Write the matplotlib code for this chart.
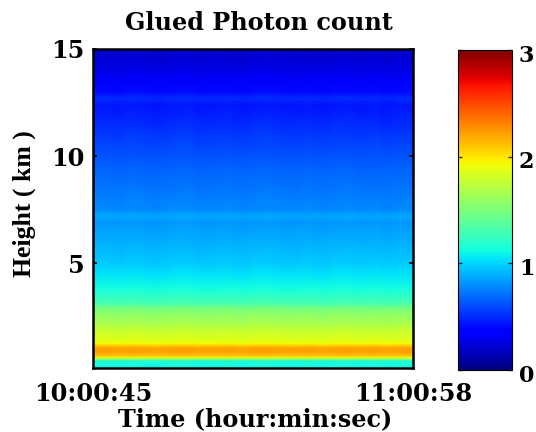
#!/usr/bin/env python
"""Glued photon count, height vs time."""
import numpy as np, matplotlib
matplotlib.use("Agg"); import matplotlib.pyplot as plt
from matplotlib.transforms import ScaledTranslation

plt.rcParams["font.family"] = ["DejaVu Serif", "Liberation Serif"]
plt.rcParams["font.weight"] = "bold"

# ---- mean profile (km, count) and slow time wiggle
HEIGHT = [0.1, 0.24, 0.47, 0.57, 0.7, 0.85, 1.03, 1.15, 1.27, 1.5, 1.9, 2.2, 2.6, 2.9, 3.1, 3.4, 3.7, 4.0, 4.5,
          5.0, 5.5, 6.0, 6.5, 6.9, 7.2, 7.5, 8.0, 8.5, 9.0, 9.5, 10.0, 10.5, 11.0, 11.5, 12.0, 12.4, 12.7,
          13.0, 13.5, 14.0, 14.5, 15.0]
COUNT = [1.10, 1.12, 1.22, 1.85, 2.12, 2.21, 2.21, 2.08, 1.92, 1.84, 1.76, 1.66, 1.58, 1.48, 1.32, 1.24, 1.16, 1.10, 1.04,
         0.97, 0.93, 0.89, 0.85, 0.82, 0.87, 0.78, 0.75, 0.72, 0.69, 0.66, 0.62, 0.58, 0.54, 0.50, 0.46, 0.44, 0.50,
         0.40, 0.33, 0.27, 0.23, 0.20]
TIME_MIN = [0, 2, 5, 7, 10, 12, 15, 18, 20, 23, 25, 28, 30, 33, 35, 38, 40, 43, 45, 48, 50, 53, 55, 58, 60]
WIGGLE = [0.00, 0.01, -0.005, 0.012, 0.00, -0.01, 0.006, 0.012, -0.006, 0.00, 0.01, -0.01, 0.005,
          0.012, 0.00, -0.006, 0.008, -0.01, 0.004, 0.01, -0.004, 0.006, -0.008, 0.01, 0.00]
XTICKS = [0, 60]
XTICKLABELS = ["10:00:45", "11:00:58"]
YTICKS = [5, 10, 15]
CTICKS = [0, 1, 2, 3]

Z = np.array(COUNT)[:, None] + np.array(WIGGLE)[None, :]

fig = plt.figure(figsize=(5.36, 4.32), dpi=100)
W, H = 536., 432.
ax = fig.add_axes([93/W, 1-368/H, 320/W, 319/H])
pc = ax.pcolormesh(TIME_MIN, HEIGHT, Z, cmap="jet", vmin=0, vmax=3, shading="gouraud")
ax.set_xlim(0, 60); ax.set_ylim(0.1, 15)
ax.set_xticks(XTICKS); ax.set_xticklabels(XTICKLABELS, fontsize=17.3)
ax.set_yticks(YTICKS); ax.set_yticklabels([str(t) for t in YTICKS], fontsize=17.3)
ax.tick_params(axis="y", direction="in", length=3, width=1.2, right=True, pad=6)
ax.tick_params(axis="x", length=0, pad=10)
for s in ax.spines.values():
    s.set_linewidth(1.8)
ax.set_xlabel("Time (hour:min:sec)", fontsize=17.2, fontweight="bold")
ax.xaxis.set_label_coords(0.506, -0.122)
ax.set_ylabel("Height ( km )", fontsize=18.5, fontweight="bold", family="Liberation Serif")
ax.yaxis.set_label_coords(-0.177, 0.514)
ax.set_title("Glued Photon count", fontsize=17.2, fontweight="bold", pad=14, x=0.519)

cax = fig.add_axes([458/W, 1-370/H, 54/W, 320/H])
cb = fig.colorbar(pc, cax=cax, ticks=CTICKS)
cb.ax.set_yticklabels([str(t) for t in CTICKS], fontsize=16)
cb.ax.tick_params(direction="in", length=3, width=1.0, left=True, right=True, pad=5, color="0.2")
cb.outline.set_linewidth(0.8)
for lab in cb.ax.get_yticklabels():
    lab.set_transform(lab.get_transform() + ScaledTranslation(0, -3/100, fig.dpi_scale_trans))

fig.savefig("out.png", dpi=100)
